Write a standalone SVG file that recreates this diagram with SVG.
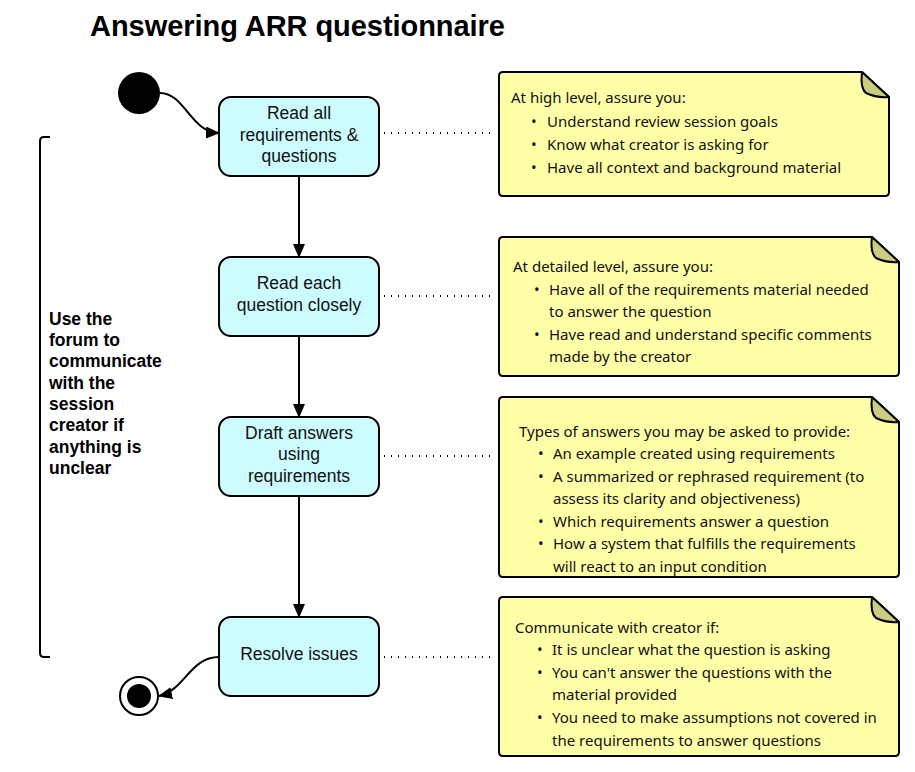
<svg xmlns="http://www.w3.org/2000/svg" width="915" height="772" viewBox="0 0 915 772">
<style>
.node{fill:#ccfcff;stroke:#000;stroke-width:2}
.nt{font-family:"Liberation Sans",Arial,sans-serif;font-size:17.5px;text-anchor:middle;fill:#111}
.note{fill:#ffffa8;stroke:#000;stroke-width:2;stroke-linejoin:round}
.fold{fill:#cccc80;stroke:#000;stroke-width:2;stroke-linejoin:round}
.ntx{font-family:"Noto Sans","DejaVu Sans",sans-serif;font-size:15px;fill:#111}
.edge{fill:none;stroke:#000;stroke-width:2}
.dot{fill:none;stroke:#000;stroke-width:2;stroke-dasharray:1 6}
.side{font-family:"Liberation Sans",Arial,sans-serif;font-size:17.5px;font-weight:bold;fill:#000}
</style>
<defs>
<marker id="ah" markerWidth="14" markerHeight="12" refX="13" refY="6" orient="auto" markerUnits="userSpaceOnUse">
<path d="M0,0 L14,6 L0,12 Z" fill="#000"/>
</marker>
</defs>
<rect width="915" height="772" fill="#fff"/>
<text x="90" y="36" font-family="'Liberation Sans',Arial,sans-serif" font-size="29" font-weight="bold" textLength="415" fill="#000">Answering ARR questionnaire</text>

<g id="start"><circle cx="139" cy="93" r="21" fill="#000"/></g>
<g id="end"><circle cx="139" cy="696" r="19" fill="#fff" stroke="#000" stroke-width="2"/><circle cx="139" cy="696" r="12" fill="#000"/></g>

<g id="n1"><rect class="node" x="219" y="97" width="160" height="79" rx="12"/>
<text class="nt" x="299" y="119">Read all</text><text class="nt" x="299" y="141">requirements &amp;</text><text class="nt" x="299" y="162">questions</text></g>
<g id="n2"><rect class="node" x="219" y="257" width="160" height="79" rx="12"/>
<text class="nt" x="299" y="289">Read each</text><text class="nt" x="299" y="311">question closely</text></g>
<g id="n3"><rect class="node" x="219" y="417" width="160" height="79" rx="12"/>
<text class="nt" x="299" y="439">Draft answers</text><text class="nt" x="299" y="460">using</text><text class="nt" x="299" y="482">requirements</text></g>
<g id="n4"><rect class="node" x="219" y="617" width="160" height="79" rx="12"/>
<text class="nt" x="299" y="660">Resolve issues</text></g>

<g id="note1"><path class="note" d="M503,72 L862,72 L889,97 L889,192 Q889,196 885,196 L503,196 Q499,196 499,192 L499,76 Q499,72 503,72 Z"/>
<path class="fold" d="M862,72 Q860,88 866,93 Q876,98 889,97 Z"/>
<text class="ntx" x="511" y="103">At high level, assure you:</text>
<text class="ntx" x="531" y="127">•</text><text class="ntx" x="547" y="127">Understand review session goals</text>
<text class="ntx" x="531" y="150">•</text><text class="ntx" x="547" y="150">Know what creator is asking for</text>
<text class="ntx" x="531" y="173">•</text><text class="ntx" x="547" y="173">Have all context and background material</text></g>

<g id="note2"><path class="note" d="M503,237 L872,237 L899,262 L899,372 Q899,376 895,376 L503,376 Q499,376 499,372 L499,241 Q499,237 503,237 Z"/>
<path class="fold" d="M872,237 Q870,253 876,258 Q886,263 899,262 Z"/>
<text class="ntx" x="513" y="272">At detailed level, assure you:</text>
<text class="ntx" x="534" y="295">•</text><text class="ntx" x="549" y="295">Have all of the requirements material needed</text>
<text class="ntx" x="549" y="317">to answer the question</text>
<text class="ntx" x="534" y="340">•</text><text class="ntx" x="549" y="340">Have read and understand specific comments</text>
<text class="ntx" x="549" y="362">made by the creator</text></g>

<g id="note3"><path class="note" d="M503,397 L872,397 L899,422 L899,573 Q899,577 895,577 L503,577 Q499,577 499,573 L499,401 Q499,397 503,397 Z"/>
<path class="fold" d="M872,397 Q870,413 876,418 Q886,423 899,422 Z"/>
<text class="ntx" x="519" y="437">Types of answers you may be asked to provide:</text>
<text class="ntx" x="538" y="459">•</text><text class="ntx" x="553" y="459">An example created using requirements</text>
<text class="ntx" x="538" y="482">•</text><text class="ntx" x="553" y="482">A summarized or rephrased requirement (to</text>
<text class="ntx" x="553" y="504">assess its clarity and objectiveness)</text>
<text class="ntx" x="538" y="527">•</text><text class="ntx" x="553" y="527">Which requirements answer a question</text>
<text class="ntx" x="538" y="549">•</text><text class="ntx" x="553" y="549">How a system that fulfills the requirements</text>
<text class="ntx" x="553" y="572">will react to an input condition</text></g>

<g id="note4"><path class="note" d="M503,597 L872,597 L899,622 L899,752 Q899,756 895,756 L503,756 Q499,756 499,752 L499,601 Q499,597 503,597 Z"/>
<path class="fold" d="M872,597 Q870,613 876,618 Q886,623 899,622 Z"/>
<text class="ntx" x="515" y="633">Communicate with creator if:</text>
<text class="ntx" x="537" y="655">•</text><text class="ntx" x="552" y="655">It is unclear what the question is asking</text>
<text class="ntx" x="537" y="678">•</text><text class="ntx" x="552" y="678">You can't answer the questions with the</text>
<text class="ntx" x="552" y="700">material provided</text>
<text class="ntx" x="537" y="723">•</text><text class="ntx" x="552" y="723">You need to make assumptions not covered in</text>
<text class="ntx" x="552" y="746">the requirements to answer questions</text></g>

<g id="bracket"><path class="edge" d="M50,137 L44,137 Q40,137 40,141 L40,653 Q40,657 44,657 L50,657"/>
<text class="side" x="49" y="325">Use the</text><text class="side" x="49" y="346">forum to</text><text class="side" x="49" y="367">communicate</text><text class="side" x="49" y="389">with the</text><text class="side" x="49" y="410">session</text><text class="side" x="49" y="431">creator if</text><text class="side" x="49" y="453">anything is</text><text class="side" x="49" y="474">unclear</text></g>

<g id="connectors">
<path class="edge" d="M160,93 C185,93 190,132 219,133" marker-end="url(#ah)"/>
<path class="edge" d="M299,176 L299,257" marker-end="url(#ah)"/>
<path class="edge" d="M299,336 L299,417" marker-end="url(#ah)"/>
<path class="edge" d="M299,496 L299,617" marker-end="url(#ah)"/>
<path class="edge" d="M219,657 C190,657 185,690 159,696" marker-end="url(#ah)"/>
<path class="dot" d="M384,133 L495,133"/>
<path class="dot" d="M384,296 L495,296"/>
<path class="dot" d="M384,456 L495,456"/>
<path class="dot" d="M384,657 L495,657"/>
</g>
</svg>
